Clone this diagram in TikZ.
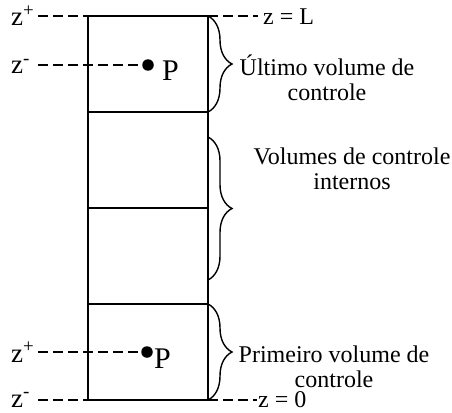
\documentclass[tikz,border=0pt]{standalone}
\usepackage{fontspec}
\setmainfont{Liberation Serif}
\usetikzlibrary{decorations.pathreplacing,positioning}

\begin{document}
\begin{tikzpicture}[
  x=1pt, y=-1pt,
  wall/.style={line width=1.5pt},
  dashline/.style={line width=1.3pt, dash pattern=on 10pt off 5pt},
  curly/.style={
    line width=1.4pt,
    decorate,
    decoration={brace, amplitude=24pt}
  },
  zlabel/.style={font=\fontsize{27}{29}\selectfont, inner sep=0pt, anchor=base west},
  endlabel/.style={font=\fontsize{24}{25}\selectfont, inner sep=0pt, anchor=base west},
  desc/.style={font=\fontsize{24}{25}\selectfont, inner sep=0pt, align=center},
  ptlabel/.style={font=\fontsize{30}{32}\selectfont, inner sep=0pt, anchor=base west},
  dot/.style={circle, fill=black, inner sep=0pt, minimum size=11.5pt}
]

\useasboundingbox (0,0) rectangle (452,412);

% faces of the control volumes
\foreach \i/\y in {0/16,1/112,2/208,3/304,4/400} {
  \coordinate (l\i) at (88,\y);
  \coordinate (r\i) at (208,\y);
}
\draw[wall] (l0) -- (l4);
\draw[wall] (r0) -- (r4);
\foreach \i in {0,...,4}
  \draw[wall] (l\i) -- (r\i);

% points P
\node[dot] (ptop) at (148,65) {};
\node[dot] (pbot) at (147,352) {};
\node[ptlabel] (Ptop) at (162,81) {P};
\node[ptlabel] (Pbot) at (154,368) {P};

% z labels on the left
\node[zlabel] (zpt) at (11,26) {z\textsuperscript{+}};
\node[zlabel] (zmt) at (11,74) {z\textsuperscript{-}};
\node[zlabel] (zpb) at (11,362) {z\textsuperscript{+}};
\node[zlabel] (zmb) at (11,407) {z\textsuperscript{-}};

\coordinate (a0) at (38,16);
\coordinate (a1) at (38,65);
\coordinate (a2) at (38,352);
\coordinate (a3) at (38,400);
\draw[dashline] (a0) -- (l0);
\draw[dashline] (a1) -- (ptop);
\draw[dashline] (a2) -- (pbot);
\draw[dashline] (a3) -- (l4);

% z = L and z = 0
\coordinate (eL) at (258,16);
\coordinate (e0) at (257,400);
\draw[dashline] (r0) -- (eL);
\draw[dashline] (r4) -- (e0);
\node[endlabel] (zL) at (263,25) {z = L};
\node[endlabel] (z0) at (258,407) {z = 0};

% braces
\draw[curly] (r0) -- (r1);
\draw[curly] (208,137) -- (208,280);
\draw[curly] (r3) -- (r4);

\node[desc, anchor=base] (ultimo) at (327,100) {Último volume de\\controle};
\node[desc, anchor=base] (internos) at (352,189) {Volumes de controle\\internos};
\node[desc, anchor=base] (primeiro) at (334,387) {Primeiro volume de\\controle};

\end{tikzpicture}
\end{document}
